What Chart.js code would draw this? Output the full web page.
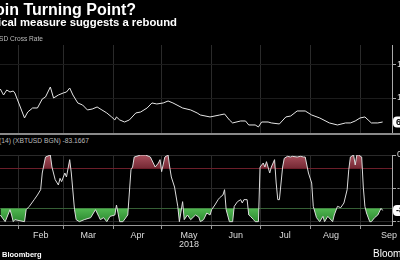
<!DOCTYPE html>
<html>
<head>
<meta charset="utf-8">
<script src="https://cdn.jsdelivr.net/npm/chart.js@4.4.1/dist/chart.umd.min.js"></script>
<style>
  html, body { margin: 0; padding: 0; background: #000; width: 400px; height: 260px; overflow: hidden; }
  body { position: relative; font-family: 'Liberation Sans', Arial, sans-serif; }
  .t { position: absolute; white-space: nowrap; line-height: 1; }
  canvas { position: absolute; left: 0; }
  #sep { position: absolute; left: 0; top: 133px; width: 400px; height: 2px; background: #8a8a8a; }
</style>
</head>
<body>
<canvas id="head" width="400" height="18" style="top:0px"></canvas>
<canvas id="priceChart" width="440" height="88" style="top:45px"></canvas>
<canvas id="wrChart" width="440" height="105" style="top:150px"></canvas>
<div id="sep"></div>
<div class="t" style="right:223px;top:17px;font-size:11.3px;font-weight:bold;color:#fff">Technical measure suggests a rebound</div>
<div class="t" style="right:357px;top:36px;font-size:6.6px;color:#bbb">XBTUSD Cross Rate</div>
<div class="t" style="right:311px;top:138px;font-size:6.7px;color:#bbb">WILLIAMS %R (14) (XBTUSD BGN) -83.1667</div>
<div class="t" style="left:2px;top:251px;font-size:7.5px;font-weight:bold;color:#fff">Bloomberg</div>
<div class="t" style="left:373px;top:249px;font-size:10px;color:#fff">Bloomberg</div>

<script>
const titleText = 'Bitcoin Turning Point?'

// days counted from 1 Jan 2018
const xMin = 19.8
const xMax = 262.8
const monthStartDay = [31, 59, 90, 120, 151, 181, 212, 243]
const monthLabelDay = [45, 74.5, 105, 137, 166, 196.5, 225, 261]
const monthLabel = ['Feb', 'Mar', 'Apr', ['May', '2018'], 'Jun', 'Jul', 'Aug', 'Sep']

// XBTUSD cross rate
const priceDay = [20, 22, 24, 26, 28, 29, 35, 37, 40, 43, 46, 48, 51, 53, 56, 59, 61, 63, 65, 68,
  71, 74, 77, 80, 83, 86, 89, 91, 92, 94, 97, 100, 104, 107, 111, 114, 117, 121, 124, 127,
  133, 138, 142, 144, 150, 156, 159, 162, 164, 169, 172, 174, 178, 180, 182, 186, 188, 193, 197, 200,
  204, 209, 213, 218, 224, 229, 234, 237, 240, 243, 246, 248, 250, 254, 257]
const price = [11320, 10440, 11180, 10880, 11030, 10740, 7060, 7940, 8530, 8530, 9850, 10150, 11620, 10000, 10440, 10740, 10880, 11470, 10440, 9270,
  8970, 8240, 8380, 8680, 8240, 7800, 7210, 6770, 7210, 6770, 6470, 6770, 7800, 7940, 8530, 9270, 9120, 9270, 9560, 9270,
  8530, 8240, 7800, 7500, 7210, 7500, 7650, 6770, 6330, 6620, 6620, 6030, 6030, 5740, 6470, 6470, 6330, 6180, 7210, 7350,
  8090, 8090, 7500, 7060, 6330, 6030, 6330, 6330, 6620, 7060, 7210, 6770, 6330, 6330, 6470]
const priceTicks = [10000, 15000]

// Williams %R (14)
const wrDay = [20, 23, 26, 27, 28, 29, 35, 36, 38, 41, 43, 45, 46, 48, 51, 52, 54, 56, 57, 58,
  60, 61, 63, 64, 66, 67, 69, 72, 76, 79, 81, 82, 84, 86, 88, 91, 92, 94, 96, 99,
  101, 102, 103, 107, 110, 113, 116, 118, 119, 120, 122, 124, 125, 126, 128, 130, 131, 133, 134, 136,
  138, 141, 143, 144, 146, 148, 150, 151, 153, 155, 156, 158, 159, 160, 162, 164, 165, 167, 169, 170,
  171, 173, 174, 175, 177, 178, 180, 181, 183, 184, 185, 187, 188, 190, 191, 192, 193, 195, 196, 198,
  200, 201, 204, 206, 208, 209, 211, 213, 214, 216, 218, 220, 221, 223, 226, 227, 229, 231, 233, 235,
  236, 237, 239, 240, 241, 242, 244, 245, 246, 247, 249, 250, 252, 254, 256, 257]
const wr = [-90, -100, -82, -90, -100, -97, -100, -82, -77, -67, -60, -52, -27, -3, 0, -18, -37, -45, -35, -40,
  -27, -33, -7, -27, -82, -97, -100, -97, -94, -82, -92, -97, -94, -100, -92, -90, -75, -100, -100, -90,
  -22, -18, -3, 0, 0, -3, -18, -12, -7, -25, -3, 0, -18, -33, -48, -77, -100, -70, -97, -90,
  -97, -90, -93, -100, -97, -87, -90, -82, -75, -67, -64, -60, -52, -82, -100, -100, -77, -70, -67, -72,
  -67, -67, -90, -92, -97, -100, -100, -18, -12, -18, -10, -27, -18, -7, -42, -67, -67, -18, -5, -2,
  -3, -2, -3, -2, -3, -3, -27, -42, -77, -94, -100, -92, -100, -92, -100, -90, -77, -79, -72, -52,
  -22, -3, 0, -15, 0, 0, -3, -48, -77, -87, -100, -100, -94, -90, -80, -83.1667]
const wrTicks = [0, -20, -50, -80, -100]

const font = 'Liberation Sans'

// headline, right end sits at x=136 and the start runs off the left edge
const headCtx = document.getElementById('head').getContext('2d')
headCtx.font = 'bold 16px ' + font
headCtx.fillStyle = '#fff'
headCtx.textAlign = 'right'
headCtx.textBaseline = 'alphabetic'
headCtx.fillText(titleText, 136, 14.5)

const lastBadge = {
    id: 'lastBadge',
    afterDraw(chart, args, opts) {
        const pts = chart.data.datasets[0].data
        const last = pts[pts.length - 1]
        const y = chart.scales.y.getPixelForValue(last.y)
        const x = chart.chartArea.right + 1
        const ctx = chart.ctx
        ctx.save()
        ctx.fillStyle = '#fff'
        ctx.beginPath()
        ctx.roundRect(x, y - 5.5, 46, 11, 4)
        ctx.fill()
        ctx.fillStyle = '#000'
        ctx.font = 'bold 9px ' + font
        ctx.textBaseline = 'middle'
        ctx.fillText(opts.text(last.y), x + 3, y + 0.5)
        ctx.restore()
    }
}

// vertical gradient between two values of the y scale
function bandGradient(c, fromVal, toVal, fromColor, toColor) {
    const chart = c.chart
    if (!chart.chartArea) return fromColor
    const y = chart.scales.y
    const g = chart.ctx.createLinearGradient(0, y.getPixelForValue(fromVal), 0, y.getPixelForValue(toVal))
    g.addColorStop(0, fromColor)
    g.addColorStop(1, toColor)
    return g
}

function monthGridX(showLabels) {
    return {
        type: 'linear',
        min: xMin,
        max: xMax,
        afterBuildTicks: s => {
            const vals = showLabels ? monthStartDay.concat(monthLabelDay) : monthStartDay
            s.ticks = vals.slice().sort((a, b) => a - b).map(v => ({ value: v }))
        },
        afterFit: s => {
            s.height = showLabels ? 30 : 0
            s.paddingLeft = 0
            s.paddingRight = 0
        },
        grid: {
            color: c => monthStartDay.includes(c.tick.value) ? '#2a2a2a' : 'transparent',
            tickColor: c => monthStartDay.includes(c.tick.value) ? '#999' : 'transparent',
            tickLength: 4,
            drawTicks: showLabels
        },
        border: { display: showLabels, color: '#999' },
        ticks: {
            display: showLabels,
            color: '#ddd',
            font: { family: font, size: 9, lineHeight: 1 },
            padding: 2,
            maxRotation: 0,
            autoSkip: false,
            callback: v => {
                const i = monthLabelDay.indexOf(v)
                return i >= 0 ? monthLabel[i] : ''
            }
        }
    }
}

new Chart('priceChart', {
    type: 'line',
    data: {
        datasets: [{
            data: priceDay.map((d, i) => ({ x: d, y: price[i] })),
            borderColor: '#e6e6e6',
            borderWidth: 1,
            pointRadius: 0,
            tension: 0
        }]
    },
    options: {
        responsive: false,
        animation: false,
        devicePixelRatio: 1,
        layout: { padding: 0 },
        plugins: {
            legend: { display: false },
            tooltip: { enabled: false },
            lastBadge: { text: v => Math.round(v).toLocaleString('en-US') }
        },
        scales: {
            x: monthGridX(false),
            y: {
                position: 'right',
                min: 4850,
                max: 17800,
                afterBuildTicks: s => { s.ticks = priceTicks.map(v => ({ value: v })) },
                afterFit: s => { s.width = 48; s.paddingTop = 0; s.paddingBottom = 0 },
                grid: { color: '#1c1c1c', tickColor: '#aaa', tickLength: 4 },
                border: { color: '#aaa' },
                ticks: { color: '#ddd', font: { family: font, size: 9 }, padding: 1, callback: v => v.toLocaleString('en-US') }
            }
        }
    },
    plugins: [lastBadge]
})

const wrPoints = wrDay.map((d, i) => ({ x: d, y: wr[i] }))

new Chart('wrChart', {
    type: 'line',
    data: {
        datasets: [
            {
                data: wrPoints,
                borderColor: '#dcdcdc',
                borderWidth: 1,
                pointRadius: 0,
                tension: 0,
                backgroundColor: c => bandGradient(c, 0, -20, '#a84f5c', '#742934'),
                fill: { target: { value: -20 }, below: 'transparent' }
            },
            {
                data: wrPoints,
                borderWidth: 0,
                pointRadius: 0,
                tension: 0,
                backgroundColor: c => bandGradient(c, -80, -100, '#52b852', '#2c8a30'),
                fill: { target: { value: -80 }, above: 'transparent' }
            }
        ]
    },
    options: {
        responsive: false,
        animation: false,
        devicePixelRatio: 1,
        layout: { padding: { top: 5 } },
        plugins: {
            legend: { display: false },
            tooltip: { enabled: false },
            lastBadge: { text: v => v.toFixed(4) }
        },
        scales: {
            x: monthGridX(true),
            y: {
                position: 'right',
                min: -105,
                max: 0,
                afterBuildTicks: s => { s.ticks = wrTicks.map(v => ({ value: v })) },
                afterFit: s => { s.width = 48; s.paddingTop = 0; s.paddingBottom = 0 },
                grid: {
                    color: c => c.tick.value === -20 ? '#6a1c28' : c.tick.value === -80 ? '#2f4a2f' : '#2a2a2a',
                    tickColor: c => (c.tick.value === -20 || c.tick.value === -80) ? 'transparent' : '#aaa',
                    tickLength: 4
                },
                border: { color: '#aaa' },
                ticks: {
                    color: '#ddd',
                    font: { family: font, size: 9 },
                    padding: 1,
                    callback: v => (v === -20 || v === -80) ? '' : String(v)
                }
            }
        }
    },
    plugins: [lastBadge]
})
</script>
</body>
</html>
